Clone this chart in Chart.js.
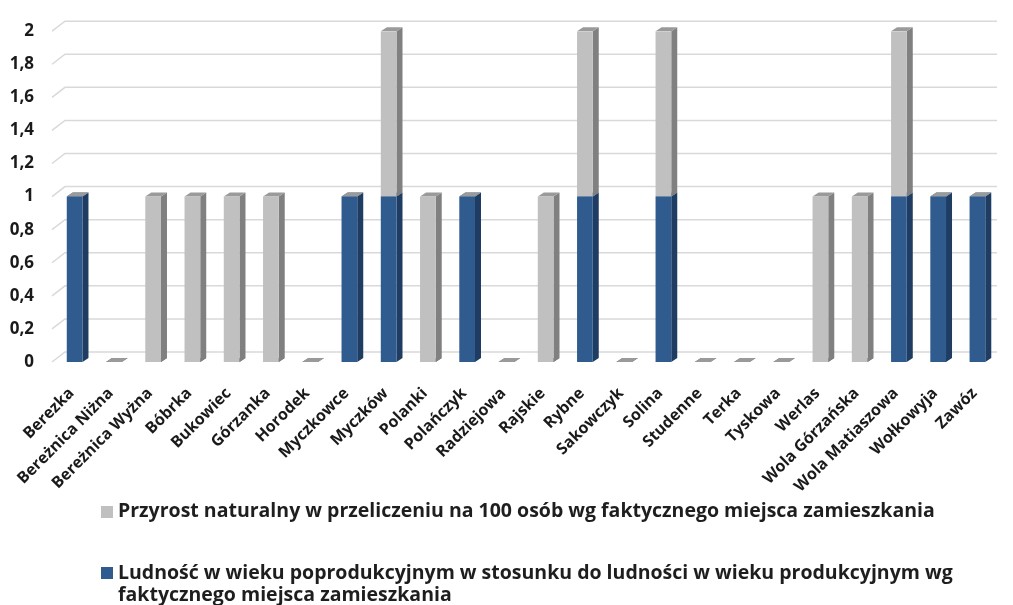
<!DOCTYPE html>
<html>
<head>
<meta charset="utf-8">
<script src="https://cdn.jsdelivr.net/npm/chart.js@4.4.1/dist/chart.umd.min.js"></script>
<style>
  html, body { margin: 0; padding: 0; background: #fff; }
  #wrap { position: relative; width: 1013px; height: 605px; overflow: hidden; }
  #c { position: absolute; left: 0; top: 0; }
  .lbox { position: absolute; width: 12px; height: 12px; }
  .ltext { position: absolute; font-family: "Open Sans", sans-serif; font-weight: bold; font-size: 19.5px; line-height: 22px; color: #1e1e1e; white-space: nowrap; }
</style>
</head>
<body>
<div id="wrap">
  <canvas id="c" width="1013" height="605"></canvas>
  <div class="lbox" style="left:101px; top:506px; background:#c0c0c0;"></div>
  <div class="ltext" style="left:118px; top:499px;">Przyrost naturalny w przeliczeniu na 100 osób wg faktycznego miejsca zamieszkania</div>
  <div class="lbox" style="left:101px; top:567px; background:#2f5b8e;"></div>
  <div class="ltext" style="left:118px; top:561px;">Ludność w wieku poprodukcyjnym w stosunku do ludności w wieku produkcyjnym wg<br>faktycznego miejsca zamieszkania</div>
</div>
<script>
const categories = ["Berezka", "Bereżnica Niżna", "Bereżnica Wyżna", "Bóbrka", "Bukowiec", "Górzanka", "Horodek", "Myczkowce", "Myczków", "Polanki", "Polańczyk", "Radziejowa", "Rajskie", "Rybne", "Sakowczyk", "Solina", "Studenne", "Terka", "Tyskowa", "Werlas", "Wola Górzańska", "Wola Matiaszowa", "Wołkowyja", "Zawóz"];
const ludnoscPoprodukcyjna = [1, 0, 0, 0, 0, 0, 0, 1, 1, 0, 1, 0, 0, 1, 0, 1, 0, 0, 0, 0, 0, 1, 1, 1];
const przyrostNaturalny   = [0, 0, 1, 1, 1, 1, 0, 0, 1, 1, 0, 0, 1, 1, 0, 1, 0, 0, 0, 1, 1, 1, 0, 0];
const yTickValues = [0, 0.2, 0.4, 0.6, 0.8, 1, 1.2, 1.4, 1.6, 1.8, 2];
const seriesNames = [
  "Ludność w wieku poprodukcyjnym w stosunku do ludności w wieku produkcyjnym wg faktycznego miejsca zamieszkania",
  "Przyrost naturalny w przeliczeniu na 100 osób wg faktycznego miejsca zamieszkania"
];

const DX = 6, DY = 4;
const faceColors = [
  { side: '#1f3d62', top: '#4a6b90' },
  { side: '#808080', top: '#9a9a9a' }
];

const threeD = {
  id: 'threeD',
  beforeDatasetsDraw(chart) {
    const ctx = chart.ctx;
    const area = chart.chartArea;
    const ys = chart.scales.y;
    ctx.save();
    ctx.strokeStyle = '#d9d9d9';
    ctx.lineWidth = 1.5;
    yTickValues.forEach(v => {
      const py = ys.getPixelForValue(v);
      ctx.beginPath();
      ctx.moveTo(area.left - 3, py);
      ctx.lineTo(area.left + 10, py - 10);
      ctx.lineTo(area.right, py - 10);
      ctx.stroke();
    });
    const metas = [chart.getDatasetMeta(0), chart.getDatasetMeta(1)];
    for (let i = 0; i < categories.length; i++) {
      metas.forEach((meta, di) => {
        const el = meta.data[i];
        if (!el) return;
        const p = el.getProps(['x', 'y', 'base', 'width'], true);
        const l = p.x - p.width / 2, r = p.x + p.width / 2;
        const top = Math.min(p.y, p.base), bot = Math.max(p.y, p.base);
        ctx.fillStyle = faceColors[di].side;
        ctx.beginPath();
        ctx.moveTo(r, top); ctx.lineTo(r + DX, top - DY);
        ctx.lineTo(r + DX, bot - DY); ctx.lineTo(r, bot);
        ctx.closePath(); ctx.fill();
        ctx.fillStyle = faceColors[di].top;
        ctx.beginPath();
        ctx.moveTo(l, top); ctx.lineTo(l + DX, top - DY);
        ctx.lineTo(r + DX, top - DY); ctx.lineTo(r, top);
        ctx.closePath(); ctx.fill();
      });
    }
    ctx.restore();
  }
};

const fmt = v => String(Math.round(v * 10) / 10).replace('.', ',');

new Chart(document.getElementById('c'), {
  type: 'bar',
  data: {
    labels: categories,
    datasets: [
      { label: seriesNames[0], data: ludnoscPoprodukcyjna, backgroundColor: '#2f5b8e', borderWidth: 0 },
      { label: seriesNames[1], data: przyrostNaturalny, backgroundColor: '#c0c0c0', borderWidth: 0 }
    ]
  },
  options: {
    responsive: false,
    animation: false,
    events: [],
    datasets: { bar: { categoryPercentage: 1, barPercentage: 0.4 } },
    layout: { padding: { top: 28, bottom: 0, left: 0, right: 0 } },
    plugins: { legend: { display: false }, tooltip: { enabled: false } },
    scales: {
      x: {
        stacked: true,
        grid: { display: false, drawTicks: false },
        border: { display: false },
        ticks: {
          autoSkip: false, maxRotation: 45, minRotation: 45, padding: 22, labelOffset: -3,
          color: '#1a1a1a',
          font: { family: 'Open Sans', weight: 'bold', size: 16 }
        },
        afterFit: s => { s.height = 243; }
      },
      y: {
        stacked: true,
        min: 0, max: 2,
        grid: { display: false, drawTicks: false },
        border: { display: false },
        afterBuildTicks: s => { s.ticks = yTickValues.map(v => ({ value: v })); },
        ticks: {
          padding: 21,
          color: '#1a1a1a',
          font: { family: 'Open Sans', weight: 'bold', size: 17 },
          callback: v => fmt(v)
        },
        afterFit: s => { s.width = 55; }
      }
    }
  },
  plugins: [threeD]
});
</script>
</body>
</html>
